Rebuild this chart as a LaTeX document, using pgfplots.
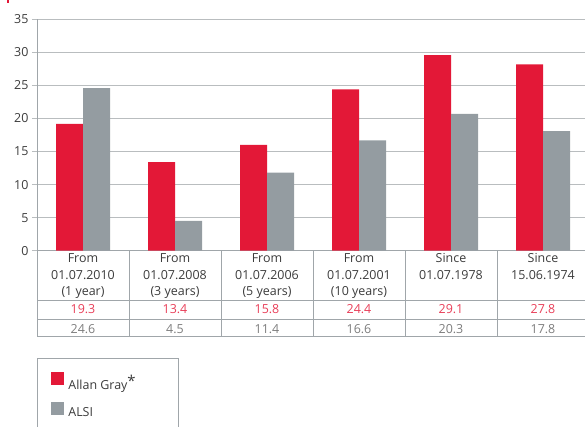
\documentclass[border=0pt]{standalone}
\usepackage{fontspec}
\setmainfont{Open Sans}
\usepackage{pgfplots}
\pgfplotsset{compat=1.18}
\definecolor{agred}{RGB}{227,24,55}
\definecolor{agrey}{RGB}{148,156,161}
\definecolor{redtext}{RGB}{232,62,88}
\definecolor{greytext}{RGB}{125,125,125}
\definecolor{gridgray}{RGB}{185,189,191}
\definecolor{tablegray}{RGB}{160,166,170}
\definecolor{textgray}{RGB}{60,60,60}
\begin{document}
\begin{tikzpicture}[x=1bp,y=1bp]
\path[use as bounding box] (-37,-175.3) rectangle (548,250.7);
\fill[agred] (-29.7,248) rectangle (-28.3,250.7);
\begin{axis}[
  at={(0,0)}, anchor=south west, scale only axis,
  x=92bp, y=6.61bp,
  xmin=-0.5, xmax=5.457, ymin=0, ymax=35,
  ybar=0pt, bar width=27bp,
  axis lines*=left,
  axis line style={draw=tablegray, line width=0.8bp},
  ytick={0,5,...,35}, xtick=\empty,
  ymajorgrids, grid style={gridgray, line width=1bp},
  tick align=outside, major tick length=5bp,
  tick style={gridgray, line width=0.8bp},
  yticklabel style={font=\fontsize{12.5}{14}\selectfont, text=textgray},
  /pgf/number format/assume math mode=true,
  clip=false,
  legend style={at={(axis description cs:0,-0.4625)}, anchor=north west,
    draw=tablegray, line width=0.8bp, inner xsep=14bp, inner ysep=14bp,
    row sep=11bp, column sep=4bp,
    font=\fontsize{12.5}{15}\selectfont, text=textgray,
    nodes={inner sep=0pt}},
  legend cell align=left,
  legend image code/.code={\fill[#1,draw=none] (0bp,-2bp) rectangle (13bp,11bp);},
]
\addplot[fill=agred, draw=none] coordinates {(0,19.2) (1,13.4) (2,16.0) (3,24.4) (4,29.6) (5,28.2)};
\addlegendentry{Allan Gray\raisebox{3bp}{\fontsize{15}{15}\selectfont *}}
\addplot[fill=agrey, draw=none] coordinates {(0,24.6) (1,4.5) (2,11.8) (3,16.7) (4,20.7) (5,18.1)};
\addlegendentry{ALSI}
\addlegendimage{empty legend}
\addlegendentry{\strut\hspace*{96bp}}
\end{axis}
\begin{scope}[tablegray, line width=0.8bp]
\draw (0,-50) -- (560,-50);
\draw (0,-68.3) -- (560,-68.3);
\draw (0,-85.3) -- (560,-85.3);
\foreach \k in {0,...,6} \draw (92*\k,0) -- (92*\k,-85.3);
\end{scope}
\begin{scope}[every node/.style={font=\fontsize{12.5}{16.5}\selectfont, inner sep=0pt, anchor=base}]
\foreach \x/\a/\b/\c in {46/From/01.07.2010/(1 year),138/From/01.07.2008/(3 years),230/From/01.07.2006/(5 years),322/From/01.07.2001/(10 years),414/Since/01.07.1978/,506/Since/15.06.1974/}{
  \node[text=textgray] at (\x,-11.6) {\a};
  \node[text=textgray] at (\x,-28.4) {\b};
  \node[text=textgray] at (\x,-44.8) {\c};
}
\foreach \x/\v in {46/19.3,138/13.4,230/15.8,322/24.4,414/29.1,506/27.8}
  \node[text=redtext] at (\x,-62.6) {\v};
\foreach \x/\v in {46/24.6,138/4.5,230/11.4,322/16.6,414/20.3,506/17.8}
  \node[text=greytext] at (\x,-82.6) {\v};
\end{scope}
\end{tikzpicture}
\end{document}
